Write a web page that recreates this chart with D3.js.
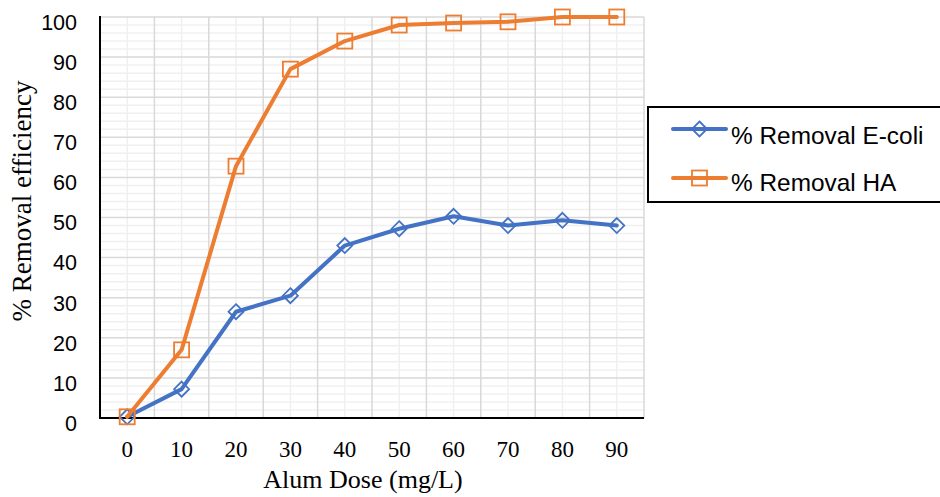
<!DOCTYPE html>
<html>
<head>
<meta charset="utf-8">
<script src="https://cdn.jsdelivr.net/npm/d3@7"></script>
<style>
  body { margin: 0; background: #fff; }
  svg { display: block; }
</style>
</head>
<body>
<svg id="chart" width="940" height="497"></svg>
<script>
// chart data
var doses = ["0", "10", "20", "30", "40", "50", "60", "70", "80", "90"];
var ecoli = [0.3, 7.2, 26.5, 30.5, 43.0, 47.2, 50.3, 48.0, 49.3, 48.0];
var ha = [0.3, 17.0, 62.8, 87.0, 94.0, 98.0, 98.5, 98.8, 100, 100];
var y_ticks = [0, 10, 20, 30, 40, 50, 60, 70, 80, 90, 100];
var series_names = ["% Removal E-coli", "% Removal HA"];

var blue = "#4472c4";
var orange = "#ed7d31";

var svg = d3.select("#chart");
var plot_left = 100, plot_right = 644, plot_top = 17, plot_bottom = 418;

var x = d3.scaleBand().domain(doses).range([plot_left, plot_right]);
var y = d3.scaleLinear().domain([0, 100]).range([plot_bottom, plot_top]);

function mid (d) { return x(d) + x.bandwidth() / 2; }

// gridlines: minor first, then major
var grid = svg.append("g");
var minor_y = d3.range(0, 101, 2).filter(function (d) { return d % 10 != 0; });
grid.selectAll(".minor-h").data(minor_y).enter().append("line")
    .attr("x1", plot_left).attr("x2", plot_right)
    .attr("y1", function (d) { return y(d); })
    .attr("y2", function (d) { return y(d); })
    .attr("stroke", "#f0f0f0").attr("stroke-width", 1.5);
grid.selectAll(".minor-v").data(doses).enter().append("line")
    .attr("x1", mid).attr("x2", mid)
    .attr("y1", plot_top).attr("y2", plot_bottom)
    .attr("stroke", "#f0f0f0").attr("stroke-width", 1.5);
grid.selectAll(".major-h").data(y_ticks.slice(1)).enter().append("line")
    .attr("x1", plot_left).attr("x2", plot_right)
    .attr("y1", function (d) { return y(d); })
    .attr("y2", function (d) { return y(d); })
    .attr("stroke", "#d9d9d9").attr("stroke-width", 1.5);
grid.selectAll(".major-v").data(doses.slice(1).concat(["end"])).enter().append("line")
    .attr("x1", function (d) { return d == "end" ? plot_right : x(d); })
    .attr("x2", function (d) { return d == "end" ? plot_right : x(d); })
    .attr("y1", plot_top).attr("y2", plot_bottom)
    .attr("stroke", "#d9d9d9").attr("stroke-width", 1.5);

// axes
var y_axis = svg.append("g")
    .attr("transform", "translate(" + plot_left + ",0)")
    .call(d3.axisLeft(y).tickValues(y_ticks).tickSize(0).tickPadding(23));
y_axis.select(".domain").remove();
y_axis.selectAll("text")
    .attr("dy", "0.32em")
    .attr("y", 5.5)
    .style("font-family", "Liberation Sans, Arial, sans-serif")
    .style("font-size", "21.5px")
    .attr("fill", "#000");

var x_axis = svg.append("g")
    .attr("transform", "translate(0," + plot_bottom + ")")
    .call(d3.axisBottom(x).tickSize(0).tickPadding(23));
x_axis.select(".domain").remove();
x_axis.selectAll("text")
    .style("font-family", "Liberation Serif, Times New Roman, serif")
    .style("font-size", "23px")
    .attr("fill", "#000");

svg.append("line")
   .attr("x1", plot_left).attr("x2", plot_left)
   .attr("y1", plot_top - 1).attr("y2", plot_bottom + 1)
   .attr("stroke", "#000").attr("stroke-width", 2);
svg.append("line")
   .attr("x1", plot_left - 1).attr("x2", plot_right)
   .attr("y1", plot_bottom).attr("y2", plot_bottom)
   .attr("stroke", "#000").attr("stroke-width", 2);

// axis titles
svg.append("text")
   .attr("x", 363).attr("y", 488)
   .attr("text-anchor", "middle")
   .style("font-family", "Liberation Serif, Times New Roman, serif")
   .style("font-size", "26px")
   .text("Alum Dose (mg/L)");
svg.append("text")
   .attr("transform", "translate(31,201) rotate(-90)")
   .attr("text-anchor", "middle")
   .style("font-family", "Liberation Serif, Times New Roman, serif")
   .style("font-size", "27px")
   .text("% Removal efficiency");

// marker shapes
function diamond (g, cx, cy, col) {
  var r = 7.5;
  g.append("path")
   .attr("d", "M" + cx + "," + (cy - r) + "L" + (cx + r) + "," + cy +
              "L" + cx + "," + (cy + r) + "L" + (cx - r) + "," + cy + "Z")
   .attr("fill", "none").attr("stroke", col).attr("stroke-width", 1.8);
}
function square (g, cx, cy, col) {
  var r = 7.5;
  g.append("rect")
   .attr("x", cx - r).attr("y", cy - r)
   .attr("width", 2 * r).attr("height", 2 * r)
   .attr("fill", "none").attr("stroke", col).attr("stroke-width", 1.8);
}

function plot_series (vals, col, marker) {
  var g = svg.append("g");
  var line = d3.line()
      .x(function (d, i) { return mid(doses[i]); })
      .y(function (d) { return y(d); });
  g.append("path")
   .datum(vals)
   .attr("d", line)
   .attr("fill", "none")
   .attr("stroke", col)
   .attr("stroke-width", 4)
   .attr("stroke-linejoin", "round")
   .attr("stroke-linecap", "round");
  vals.forEach(function (d, i) {
    marker(g, mid(doses[i]), y(d), col);
  });
}

plot_series(ecoli, blue, diamond);
plot_series(ha, orange, square);

// legend
var lg = svg.append("g");
lg.append("rect")
  .attr("x", 648).attr("y", 107).attr("width", 300).attr("height", 95)
  .attr("fill", "#fff").attr("stroke", "#000").attr("stroke-width", 2);
var legend_rows = [
  { name: series_names[0], col: blue, marker: diamond, y: 129, text_y: 144 },
  { name: series_names[1], col: orange, marker: square, y: 178, text_y: 191 }
];
legend_rows.forEach(function (r) {
  lg.append("line")
    .attr("x1", 673).attr("x2", 726).attr("y1", r.y).attr("y2", r.y)
    .attr("stroke", r.col).attr("stroke-width", 4).attr("stroke-linecap", "round");
  r.marker(lg, 699.5, r.y, r.col);
  lg.append("text")
    .attr("x", 731).attr("y", r.text_y)
    .style("font-family", "Liberation Sans, Arial, sans-serif")
    .style("font-size", "24.4px")
    .text(r.name);
});
</script>
</body>
</html>
